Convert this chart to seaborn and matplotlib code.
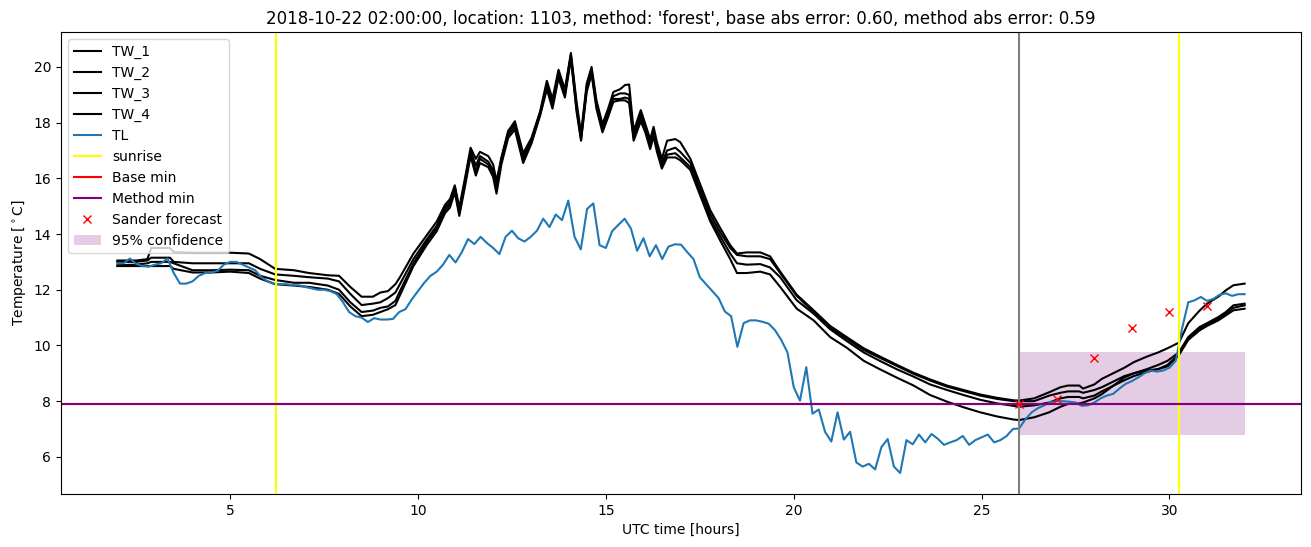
import numpy as np
import pandas as pd
import matplotlib
matplotlib.use("Agg")
import matplotlib.pyplot as plt
import seaborn as sns

# ---------------- data ----------------
title = ("2018-10-22 02:00:00, location: 1103, method: 'forest', "
         "base abs error: 0.60, method abs error: 0.59")

# Shared sample times (hours) for the four TW series
tw_hours = [2.0, 2.5, 2.8, 2.9, 3.4, 3.5, 4.0, 4.5, 5.0, 5.5,
            5.8, 6.2, 6.7, 7.1, 7.6, 7.9, 8.2, 8.5, 8.8, 9.0,
            9.2, 9.4, 9.52, 9.88, 10.23, 10.5, 10.72, 10.85, 10.98, 11.1,
            11.25, 11.4, 11.54, 11.65, 11.87, 12.0, 12.09, 12.22, 12.4, 12.58,
            12.8, 13.02, 13.25, 13.43, 13.58, 13.74, 13.91, 14.07, 14.22, 14.34,
            14.49, 14.62, 14.75, 14.91, 15.06, 15.2, 15.38, 15.51, 15.62, 15.74,
            15.93, 16.05, 16.18, 16.27, 16.36, 16.49, 16.63, 16.85, 16.98, 17.25,
            17.42, 17.78, 18.05, 18.31, 18.49, 18.75, 19.11, 19.37, 19.64, 20.08,
            20.53, 20.97, 21.41, 21.86, 22.3, 22.75, 23.19, 23.63, 24.08, 24.52,
            24.96, 25.41, 25.85, 26.0, 26.4, 26.8, 27.1, 27.3, 27.6, 27.7,
            28.0, 28.2, 28.5, 28.8, 29.05, 29.4, 29.7, 29.95, 30.25, 30.5,
            30.8, 31.0, 31.3, 31.5, 31.7, 32.0]

tw_1 = [13.05, 13.05, 13.1, 13.5, 13.5, 13.35, 13.33, 13.33, 13.33, 13.3,
        13.1, 12.75, 12.7, 12.6, 12.52, 12.5, 12.1, 11.75, 11.75, 11.9,
        11.95, 12.2, 12.45, 13.3, 13.95, 14.45, 15.05, 15.25, 15.75, 14.95,
        16.0, 17.1, 16.7, 16.95, 16.8, 16.5, 15.9, 16.75, 17.7, 18.05,
        16.9, 17.45, 18.4, 19.5, 18.85, 19.9, 19.2, 20.5, 18.75, 17.6,
        19.4, 20.0, 18.8, 17.95, 18.5, 19.1, 19.2, 19.35, 19.37, 17.7,
        18.45, 17.95, 17.4, 17.85, 17.3, 16.7, 17.35, 17.41, 17.3, 16.7,
        16.1, 14.85, 14.2, 13.6, 13.3, 13.34, 13.34, 13.2, 12.65, 11.82,
        11.26, 10.7, 10.3, 9.9, 9.6, 9.3, 9.02, 8.78, 8.56, 8.4,
        8.24, 8.12, 8.03, 8.02, 8.1, 8.32, 8.5, 8.56, 8.56, 8.45,
        8.6, 8.8, 9.0, 9.2, 9.4, 9.6, 9.75, 9.9, 10.1, 10.8,
        11.25, 11.5, 11.75, 11.98, 12.16, 12.22]

tw_2 = [13.0, 13.0, 13.05, 13.15, 13.15, 13.0, 12.95, 12.95, 12.95, 12.95,
        12.75, 12.55, 12.5, 12.45, 12.4, 12.3, 11.85, 11.45, 11.5, 11.55,
        11.7, 11.9, 12.2, 13.1, 13.8, 14.3, 14.95, 15.15, 15.7, 14.85,
        15.9, 17.0, 16.45, 16.8, 16.6, 16.3, 15.75, 16.7, 17.65, 17.95,
        16.75, 17.4, 18.35, 19.4, 18.7, 19.8, 19.1, 20.45, 18.6, 17.5,
        19.3, 19.9, 18.7, 17.85, 18.4, 18.95, 19.05, 19.05, 19.0, 17.55,
        18.3, 17.85, 17.25, 17.7, 17.15, 16.55, 17.0, 17.1, 16.95, 16.55,
        15.95, 14.7, 14.05, 13.5, 13.25, 13.2, 13.2, 13.1, 12.6, 11.78,
        11.2, 10.64, 10.24, 9.84, 9.55, 9.26, 8.98, 8.74, 8.52, 8.36,
        8.2, 8.08, 8.0, 8.0, 8.0, 8.2, 8.3, 8.35, 8.35, 8.3,
        8.4, 8.5, 8.7, 8.9, 9.0, 9.15, 9.3, 9.45, 9.75, 10.3,
        10.66, 10.8, 11.02, 11.2, 11.44, 11.5]

tw_3 = [12.88, 12.9, 12.95, 13.0, 13.0, 12.95, 12.7, 12.7, 12.72, 12.7,
        12.5, 12.35, 12.25, 12.25, 12.15, 12.0, 11.55, 11.2, 11.25, 11.35,
        11.4, 11.6, 11.95, 12.95, 13.7, 14.2, 14.85, 15.05, 15.6, 14.75,
        15.8, 16.9, 16.25, 16.7, 16.5, 16.2, 15.6, 16.6, 17.55, 17.85,
        16.65, 17.3, 18.3, 19.3, 18.6, 19.7, 19.0, 20.35, 18.5, 17.4,
        19.2, 19.8, 18.6, 17.75, 18.3, 18.85, 18.85, 18.9, 18.85, 17.45,
        18.15, 17.75, 17.15, 17.6, 17.05, 16.45, 16.85, 16.9, 16.75, 16.4,
        15.8, 14.55, 13.9, 13.3, 12.95, 12.9, 12.92, 12.8, 12.45, 11.62,
        11.14, 10.58, 10.16, 9.75, 9.44, 9.14, 8.88, 8.6, 8.4, 8.22,
        8.05, 7.92, 7.83, 7.8, 7.85, 7.95, 8.1, 8.15, 8.15, 8.1,
        8.2, 8.35, 8.55, 8.75, 8.9, 9.05, 9.15, 9.3, 9.7, 10.25,
        10.6, 10.75, 10.96, 11.15, 11.35, 11.44]

tw_4 = [12.85, 12.85, 12.85, 12.85, 12.85, 12.75, 12.62, 12.62, 12.65, 12.6,
        12.4, 12.2, 12.15, 12.1, 12.0, 11.85, 11.4, 11.05, 11.1, 11.2,
        11.3, 11.45, 11.8, 12.85, 13.6, 14.1, 14.75, 14.95, 15.5, 14.65,
        15.7, 16.8, 16.1, 16.55, 16.4, 16.05, 15.45, 16.5, 17.45, 17.75,
        16.55, 17.25, 18.25, 19.2, 18.5, 19.6, 18.9, 20.3, 18.4, 17.35,
        19.1, 19.75, 18.5, 17.65, 18.2, 18.75, 18.8, 18.8, 18.7, 17.35,
        18.05, 17.65, 17.05, 17.5, 16.95, 16.35, 16.75, 16.75, 16.65, 16.3,
        15.7, 14.45, 13.75, 13.1, 12.6, 12.6, 12.65, 12.55, 12.1, 11.32,
        10.9, 10.3, 9.92, 9.45, 9.14, 8.84, 8.56, 8.22, 7.98, 7.78,
        7.6, 7.45, 7.34, 7.32, 7.42, 7.6, 7.8, 7.9, 7.92, 7.95,
        8.1, 8.25, 8.55, 8.85, 9.0, 9.1, 9.15, 9.25, 9.65, 10.2,
        10.54, 10.7, 10.9, 11.08, 11.26, 11.32]

# TL, every 10 minutes from 02:00 to 32:00
tl_hours = np.linspace(2.0, 32.0, 181)
tl = [12.95, 12.95, 13.12, 12.93, 12.85, 12.83,
      12.9, 12.95, 13.12, 12.6, 12.22, 12.22,
      12.3, 12.5, 12.6, 12.62, 12.68, 12.9,
      13.0, 13.0, 12.9, 12.8, 12.7, 12.45,
      12.3, 12.22, 12.2, 12.2, 12.16, 12.16,
      12.1, 12.05, 12.0, 12.0, 11.95, 11.85,
      11.56, 11.2, 11.05, 11.0, 10.84, 10.98,
      10.93, 10.93, 10.95, 11.2, 11.3, 11.65,
      11.95, 12.25, 12.5, 12.65, 12.9, 13.25,
      12.98, 13.35, 13.82, 13.64, 13.9, 13.68,
      13.5, 13.28, 13.9, 14.12, 13.85, 13.73,
      13.9, 14.12, 14.55, 14.25, 14.7, 14.5,
      15.2, 13.9, 13.45, 14.9, 15.1, 13.6,
      13.5, 14.1, 14.33, 14.55, 14.2, 13.4,
      13.85, 13.2, 13.6, 13.1, 13.55, 13.63,
      13.62, 13.35, 13.1, 12.45, 12.2, 11.95,
      11.7, 11.22, 11.05, 9.95, 10.8, 10.9,
      10.9, 10.85, 10.78, 10.55, 10.2, 9.75,
      8.5, 8.02, 9.22, 7.55, 7.7, 6.9,
      6.55, 7.6, 6.62, 6.9, 5.8, 5.65,
      5.75, 5.55, 6.35, 6.64, 5.65, 5.42,
      6.6, 6.45, 6.8, 6.52, 6.82, 6.65,
      6.43, 6.52, 6.6, 6.75, 6.43, 6.6,
      6.7, 6.8, 6.52, 6.6, 6.75, 7.0,
      7.02, 7.35, 7.6, 7.75, 7.85, 7.96,
      8.0, 8.0, 7.98, 7.95, 7.83, 7.85,
      7.95, 8.1, 8.2, 8.26, 8.45, 8.62,
      8.72, 8.85, 9.0, 9.1, 9.06, 9.1,
      9.2, 9.45, 10.6, 11.55, 11.62, 11.74,
      11.6, 11.67, 11.82, 11.87, 11.78, 11.84,
      11.84]

sunrise_hours = [6.22, 30.25]
forecast_start = 26.0
base_min = 7.91
method_min = 7.91
sander_hours = [26, 27, 28, 29, 30, 31]
sander_values = [7.90, 8.09, 9.56, 10.64, 11.19, 11.43]
conf_hours = [26.0, 32.0]
conf_low = 6.80
conf_high = 9.75

# ---------------- plot ----------------
fig = plt.figure(figsize=(13.11, 5.47), dpi=100)
ax = fig.add_axes([61 / 1311, 1 - 494 / 547, 1240 / 1311, 462 / 547])

tw_series = {"TW_1": tw_1, "TW_2": tw_2, "TW_3": tw_3, "TW_4": tw_4}
for name, vals in tw_series.items():
    df = pd.DataFrame({"hours": tw_hours, "temp": vals})
    sns.lineplot(data=df, x="hours", y="temp", color="black", label=name,
                 ax=ax, linewidth=1.5)

df_tl = pd.DataFrame({"hours": tl_hours, "temp": tl})
sns.lineplot(data=df_tl, x="hours", y="temp", color="#1f77b4", label="TL",
             ax=ax, linewidth=1.5)

ax.axvline(sunrise_hours[0], color="yellow", label="sunrise")
ax.axvline(sunrise_hours[1], color="yellow")
ax.axvline(forecast_start, color="gray")
ax.axhline(base_min, color="red", label="Base min")
ax.axhline(method_min, color="purple", label="Method min")
ax.plot(sander_hours, sander_values, "rx", label="Sander forecast")
ax.fill_between(conf_hours, conf_low, conf_high, color="purple", alpha=0.2,
                linewidth=0, label="95% confidence")

ax.set_title(title)
ax.set_xlabel("UTC time [hours]")
ax.set_ylabel(r"Temperature [$^\circ$C]")
ax.legend(loc="upper left")

fig.savefig("out.png", dpi=100)
